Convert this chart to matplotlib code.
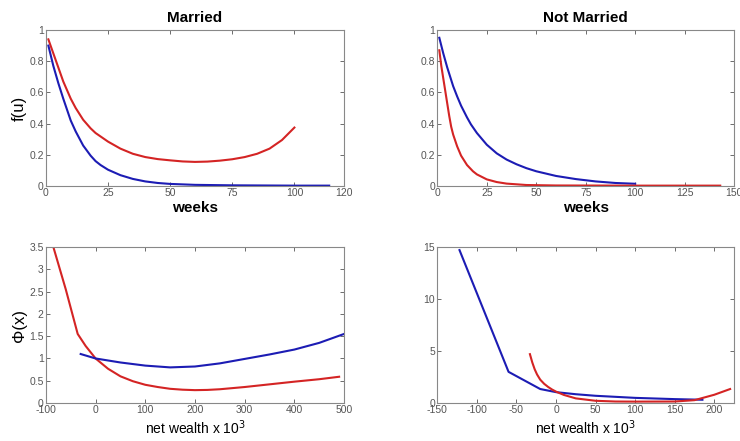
import matplotlib
matplotlib.use('Agg')
import matplotlib.pyplot as plt

plt.rcParams['font.family'] = ['Liberation Sans', 'DejaVu Sans']
plt.rcParams['axes.unicode_minus'] = False

# hazard f(u) by unemployment duration (weeks)
m_weeks_red = [1, 3, 5, 7, 10, 12, 15, 18, 20, 25, 30, 35, 40, 45, 50, 55, 60,
               65, 70, 75, 80, 85, 90, 95, 100]
m_f_red = [0.94, 0.85, 0.76, 0.67, 0.56, 0.50, 0.425, 0.37, 0.34, 0.285, 0.24,
           0.207, 0.186, 0.173, 0.165, 0.158, 0.155, 0.157, 0.163, 0.172, 0.186,
           0.207, 0.24, 0.295, 0.375]
m_weeks_blue = [1, 3, 5, 7, 10, 12, 15, 18, 20, 22, 25, 30, 35, 40, 45, 50, 60,
                75, 100, 114]
m_f_blue = [0.90, 0.77, 0.66, 0.56, 0.42, 0.35, 0.26, 0.195, 0.16, 0.135, 0.105,
            0.07, 0.046, 0.03, 0.02, 0.014, 0.008, 0.005, 0.003, 0.003]

n_weeks_blue = [1, 3, 5, 8, 10, 12, 15, 17, 20, 25, 30, 35, 40, 45, 50, 60, 70,
                80, 90, 100]
n_f_blue = [0.95, 0.85, 0.76, 0.64, 0.575, 0.515, 0.44, 0.395, 0.34, 0.265, 0.21,
            0.17, 0.14, 0.115, 0.095, 0.065, 0.045, 0.03, 0.02, 0.015]
n_weeks_red = [1, 2, 3, 4, 5, 6, 7, 8, 10, 12, 15, 18, 20, 25, 30, 35, 45, 60,
               100, 143]
n_f_red = [0.87, 0.77, 0.69, 0.61, 0.53, 0.45, 0.38, 0.33, 0.255, 0.195, 0.135,
           0.095, 0.075, 0.043, 0.026, 0.016, 0.007, 0.004, 0.003, 0.003]

# Phi(x) by net wealth (thousands)
m_w_red = [-85, -60, -36, -20, 0, 25, 50, 75, 100, 125, 150, 175, 200, 225, 250,
           300, 350, 400, 450, 490]
m_phi_red = [3.5, 2.55, 1.55, 1.28, 1.0, 0.77, 0.6, 0.49, 0.41, 0.36, 0.32, 0.3,
             0.29, 0.295, 0.31, 0.36, 0.42, 0.48, 0.535, 0.59]
m_w_blue = [-30, 0, 50, 100, 150, 200, 250, 300, 350, 400, 450, 500]
m_phi_blue = [1.1, 1.0, 0.91, 0.84, 0.8, 0.82, 0.89, 0.99, 1.09, 1.2, 1.35, 1.55]

n_w_blue = [-122, -60, -20, 0, 25, 50, 100, 150, 185]
n_phi_blue = [14.7, 3.0, 1.35, 1.05, 0.85, 0.7, 0.5, 0.38, 0.32]
n_w_red = [-33, -30, -27, -24, -20, -15, -10, -5, 0, 10, 25, 50, 75, 100, 150,
           175, 200, 220]
n_phi_red = [4.7, 3.9, 3.25, 2.75, 2.25, 1.85, 1.55, 1.3, 1.1, 0.78, 0.45, 0.22,
             0.15, 0.14, 0.15, 0.28, 0.8, 1.35]

BLUE = '#1c1cb4'
RED = '#d42424'

fig = plt.figure(figsize=(7.4, 4.41), dpi=100)
ax1 = fig.add_axes([0.062, 0.578, 0.403, 0.354])
ax2 = fig.add_axes([0.591, 0.578, 0.401, 0.354])
ax3 = fig.add_axes([0.062, 0.086, 0.403, 0.354])
ax4 = fig.add_axes([0.591, 0.086, 0.401, 0.354])

for ax in [ax1, ax2, ax3, ax4]:
    ax.tick_params(direction='in', top=True, right=True, labelsize=7.5,
                   colors='#555555', length=3, width=0.6, pad=1.5)
    for s in ax.spines.values():
        s.set_color('#888888')
        s.set_linewidth(0.8)

ax1.plot(m_weeks_red, m_f_red, color=RED, lw=1.5)
ax1.plot(m_weeks_blue, m_f_blue, color=BLUE, lw=1.5)
ax1.set_xlim(0, 120)
ax1.set_ylim(0, 1)
ax1.set_xticks([0, 25, 50, 75, 100, 120])
ax1.set_yticks([0, 0.2, 0.4, 0.6, 0.8, 1])
ax1.set_yticklabels(['0', '0.2', '0.4', '0.6', '0.8', '1'])
ax1.set_title('Married', fontsize=11, fontweight='bold', pad=6)
ax1.set_xlabel('weeks', fontsize=11, fontweight='bold', labelpad=2)
ax1.set_ylabel('f(u)', fontsize=12, labelpad=2)

ax2.plot(n_weeks_blue, n_f_blue, color=BLUE, lw=1.5)
ax2.plot(n_weeks_red, n_f_red, color=RED, lw=1.5)
ax2.set_xlim(0, 150)
ax2.set_ylim(0, 1)
ax2.set_xticks([0, 25, 50, 75, 100, 125, 150])
ax2.set_yticks([0, 0.2, 0.4, 0.6, 0.8, 1])
ax2.set_yticklabels(['0', '0.2', '0.4', '0.6', '0.8', '1'])
ax2.set_title('Not Married', fontsize=11, fontweight='bold', pad=6)
ax2.set_xlabel('weeks', fontsize=11, fontweight='bold', labelpad=2)

ax3.plot(m_w_red, m_phi_red, color=RED, lw=1.5)
ax3.plot(m_w_blue, m_phi_blue, color=BLUE, lw=1.5)
ax3.set_xlim(-100, 500)
ax3.set_ylim(0, 3.5)
ax3.set_xticks([-100, 0, 100, 200, 300, 400, 500])
ax3.set_yticks([0, 0.5, 1, 1.5, 2, 2.5, 3, 3.5])
ax3.set_yticklabels(['0', '0.5', '1', '1.5', '2', '2.5', '3', '3.5'])
ax3.set_xlabel('net wealth x 10$^3$', fontsize=10, labelpad=2)
ax3.set_ylabel('\u03a6(x)', fontsize=12, labelpad=2)

ax4.plot(n_w_blue, n_phi_blue, color=BLUE, lw=1.5)
ax4.plot(n_w_red, n_phi_red, color=RED, lw=1.5)
ax4.set_xlim(-150, 225)
ax4.set_ylim(0, 15)
ax4.set_xticks([-150, -100, -50, 0, 50, 100, 150, 200])
ax4.set_yticks([0, 5, 10, 15])
ax4.set_xlabel('net wealth x 10$^3$', fontsize=10, labelpad=2)

fig.savefig('out.png', dpi=100)
